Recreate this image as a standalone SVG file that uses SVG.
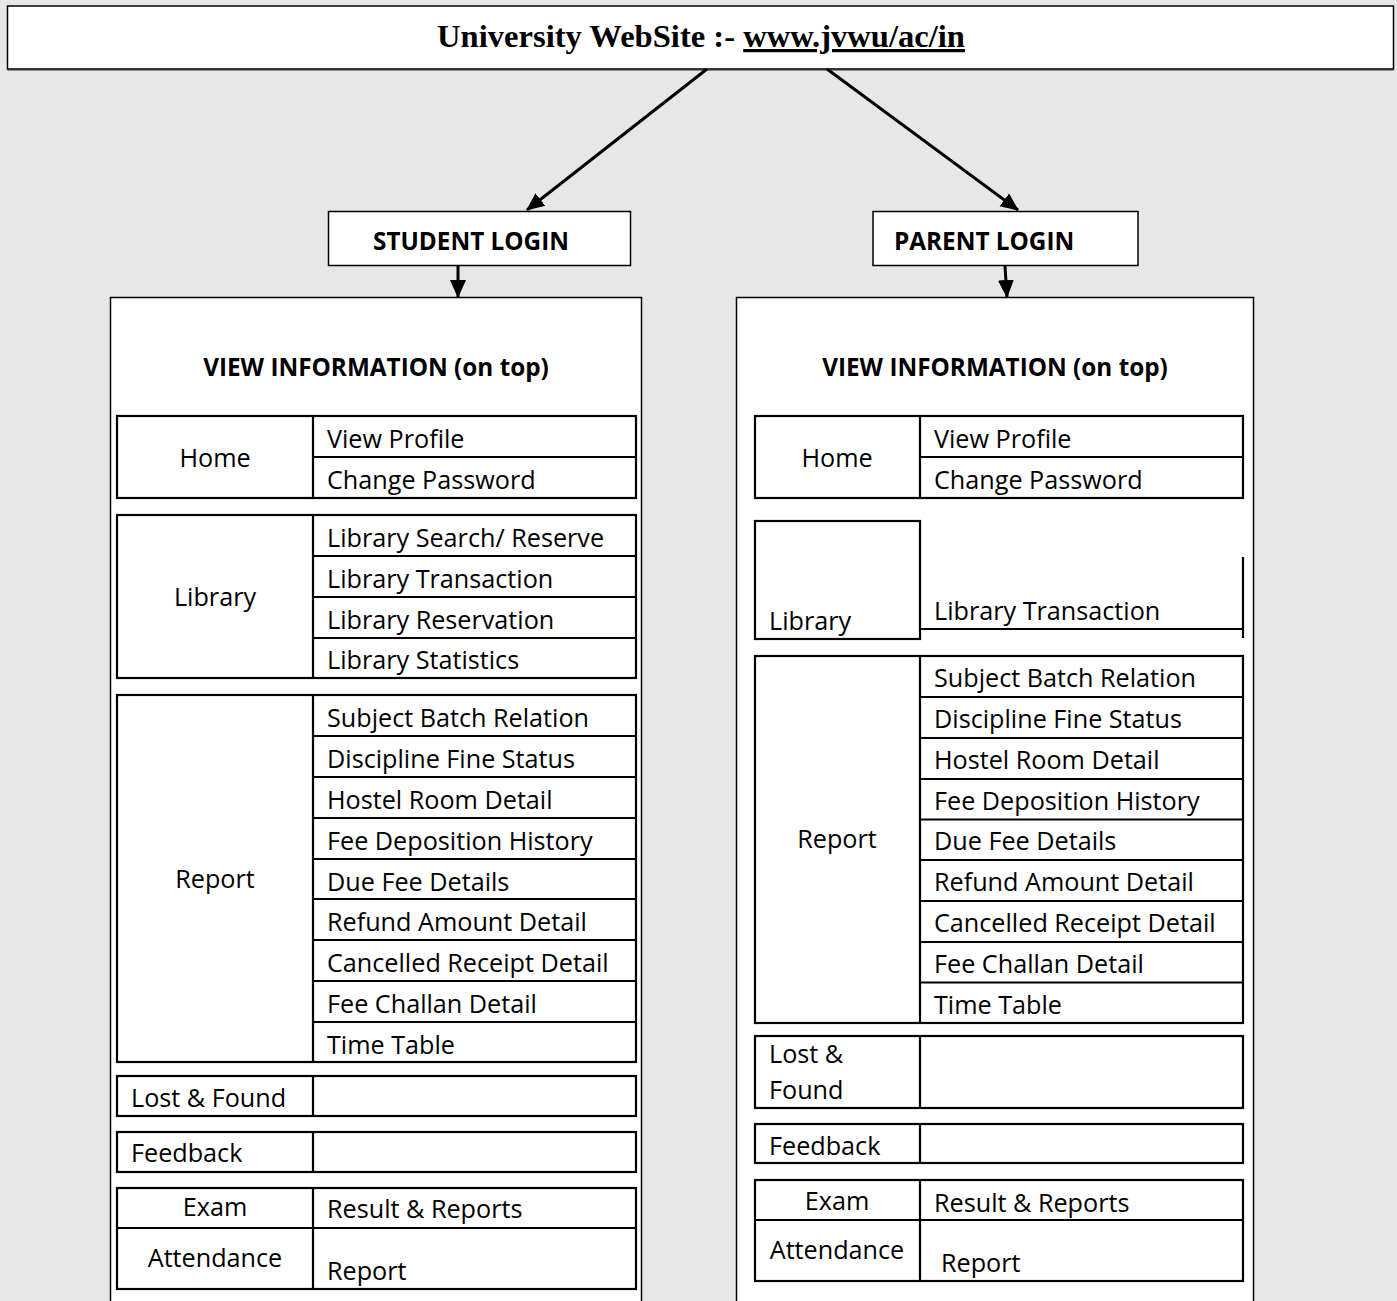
<svg xmlns="http://www.w3.org/2000/svg" width="1397" height="1301" viewBox="0 0 1397 1301">
<style>
.box{fill:#fff;stroke:#000;stroke-width:1.5}
.cell{fill:#fff;stroke:#000;stroke-width:2.2}
.ln{stroke:#000;stroke-width:2.2;fill:none}
.t{font-family:"Open Sans","Liberation Sans",sans-serif;font-size:25.2px;fill:#000}
.c{text-anchor:middle}
.b{font-family:"Open Sans","Liberation Sans",sans-serif;font-size:24.3px;font-weight:bold;fill:#000}
.conn{stroke:#000;stroke-width:3;fill:none}
</style>
<defs>
<marker id="ah" markerUnits="userSpaceOnUse" markerWidth="18" markerHeight="18" viewBox="0 0 18 18" refX="17" refY="9" orient="auto">
<path d="M0,1 L18,9 L0,17 Z" fill="#000"/>
</marker>
</defs>
<rect x="0" y="0" width="1397" height="1301" fill="#e6e7e6"/>

<g id="header">
<rect class="box" x="7.5" y="6" width="1386" height="63"/>
<line x1="7.5" y1="69.5" x2="1393.5" y2="69.5" stroke="#333" stroke-width="2"/>
<text x="701" y="47" text-anchor="middle" font-family="Liberation Serif,serif" font-size="32.6" font-weight="bold">University WebSite :- <tspan text-decoration="underline">www.jvwu/ac/in</tspan></text>
</g>

<g id="connectors">
<line class="conn" x1="707" y1="69" x2="527" y2="210" marker-end="url(#ah)"/>
<line class="conn" x1="827" y1="69" x2="1018" y2="210" marker-end="url(#ah)"/>
<line class="conn" x1="458" y1="266" x2="458" y2="297" marker-end="url(#ah)"/>
<line class="conn" x1="1005" y1="266" x2="1007" y2="297" marker-end="url(#ah)"/>
</g>

<g id="student-login">
<rect class="box" x="328.5" y="211.5" width="302" height="54"/>
<text class="b" x="373" y="250">STUDENT LOGIN</text>
</g>
<g id="parent-login">
<rect class="box" x="873" y="211.5" width="265" height="54"/>
<text class="b" x="894" y="250">PARENT LOGIN</text>
</g>

<g id="student-panel">
<rect class="box" x="110.5" y="297.5" width="531" height="1020"/>
<text class="b c" x="376" y="376" font-size="25">VIEW INFORMATION  (on top)</text>
<!-- Home -->
<rect class="cell" x="117" y="416" width="519" height="82"/>
<line class="ln" x1="313" y1="416" x2="313" y2="498"/>
<line class="ln" x1="313" y1="457" x2="636" y2="457"/>
<text class="t c" x="215" y="467">Home</text>
<text class="t" x="327" y="448">View Profile</text>
<text class="t" x="327" y="489">Change Password</text>
<!-- Library -->
<rect class="cell" x="117" y="515" width="519" height="163"/>
<line class="ln" x1="313" y1="515" x2="313" y2="678"/>
<line class="ln" x1="313" y1="556" x2="636" y2="556"/>
<line class="ln" x1="313" y1="597" x2="636" y2="597"/>
<line class="ln" x1="313" y1="638" x2="636" y2="638"/>
<text class="t c" x="215" y="606">Library</text>
<text class="t" x="327" y="547">Library Search/ Reserve</text>
<text class="t" x="327" y="588">Library Transaction</text>
<text class="t" x="327" y="629">Library Reservation</text>
<text class="t" x="327" y="669">Library Statistics</text>
<!-- Report -->
<rect class="cell" x="117" y="695" width="519" height="367"/>
<line class="ln" x1="313" y1="695" x2="313" y2="1062"/>
<path class="ln" d="M313,736H636M313,777H636M313,818H636M313,859H636M313,899H636M313,940H636M313,981H636M313,1022H636"/>
<text class="t c" x="215" y="888">Report</text>
<text class="t" x="327" y="727">Subject Batch Relation</text>
<text class="t" x="327" y="768">Discipline Fine Status</text>
<text class="t" x="327" y="809">Hostel Room Detail</text>
<text class="t" x="327" y="850">Fee Deposition History</text>
<text class="t" x="327" y="891">Due Fee Details</text>
<text class="t" x="327" y="931">Refund Amount Detail</text>
<text class="t" x="327" y="972">Cancelled Receipt Detail</text>
<text class="t" x="327" y="1013">Fee Challan Detail</text>
<text class="t" x="327" y="1054">Time Table</text>
<!-- Lost & Found -->
<rect class="cell" x="117" y="1076" width="519" height="40"/>
<line class="ln" x1="313" y1="1076" x2="313" y2="1116"/>
<text class="t" x="131" y="1107">Lost &amp; Found</text>
<!-- Feedback -->
<rect class="cell" x="117" y="1132" width="519" height="40"/>
<line class="ln" x1="313" y1="1132" x2="313" y2="1172"/>
<text class="t" x="131" y="1162">Feedback</text>
<!-- Exam / Attendance -->
<rect class="cell" x="117" y="1188" width="519" height="101"/>
<line class="ln" x1="313" y1="1188" x2="313" y2="1289"/>
<line class="ln" x1="117" y1="1228" x2="636" y2="1228"/>
<text class="t c" x="215" y="1216">Exam</text>
<text class="t" x="327" y="1218">Result &amp; Reports</text>
<text class="t c" x="215" y="1267">Attendance</text>
<text class="t" x="327" y="1280">Report</text>
</g>

<g id="parent-panel">
<rect class="box" x="736.5" y="297.5" width="517" height="1020"/>
<text class="b c" x="995" y="376" font-size="25">VIEW INFORMATION  (on top)</text>
<!-- Home -->
<rect class="cell" x="755" y="416" width="488" height="82"/>
<line class="ln" x1="920" y1="416" x2="920" y2="498"/>
<line class="ln" x1="920" y1="457" x2="1243" y2="457"/>
<text class="t c" x="837" y="467">Home</text>
<text class="t" x="934" y="448">View Profile</text>
<text class="t" x="934" y="489">Change Password</text>
<!-- Library -->
<rect class="cell" x="755" y="521" width="165" height="118"/>
<line class="ln" x1="920" y1="629" x2="1243" y2="629"/>
<line class="ln" x1="1243" y1="557" x2="1243" y2="638"/>
<text class="t" x="769" y="630">Library</text>
<text class="t" x="934" y="620">Library Transaction</text>
<!-- Report -->
<rect class="cell" x="755" y="656" width="488" height="367"/>
<line class="ln" x1="920" y1="656" x2="920" y2="1023"/>
<path class="ln" d="M920,697H1243M920,738H1243M920,779H1243M920,819.5H1243M920,860H1243M920,901H1243M920,942H1243M920,982.5H1243"/>
<text class="t c" x="837" y="848">Report</text>
<text class="t" x="934" y="687">Subject Batch Relation</text>
<text class="t" x="934" y="728">Discipline Fine Status</text>
<text class="t" x="934" y="769">Hostel Room Detail</text>
<text class="t" x="934" y="810">Fee Deposition History</text>
<text class="t" x="934" y="850">Due Fee Details</text>
<text class="t" x="934" y="891">Refund Amount Detail</text>
<text class="t" x="934" y="932">Cancelled Receipt Detail</text>
<text class="t" x="934" y="973">Fee Challan Detail</text>
<text class="t" x="934" y="1014">Time Table</text>
<!-- Lost & Found -->
<rect class="cell" x="755" y="1036" width="488" height="72"/>
<line class="ln" x1="920" y1="1036" x2="920" y2="1108"/>
<text class="t" x="769" y="1063">Lost &amp;</text>
<text class="t" x="769" y="1099">Found</text>
<!-- Feedback -->
<rect class="cell" x="755" y="1124" width="488" height="39"/>
<line class="ln" x1="920" y1="1124" x2="920" y2="1163"/>
<text class="t" x="769" y="1155">Feedback</text>
<!-- Exam / Attendance -->
<rect class="cell" x="755" y="1180" width="488" height="101"/>
<line class="ln" x1="920" y1="1180" x2="920" y2="1281"/>
<line class="ln" x1="755" y1="1220" x2="1243" y2="1220"/>
<text class="t c" x="837" y="1210">Exam</text>
<text class="t" x="934" y="1212">Result &amp; Reports</text>
<text class="t c" x="837" y="1259">Attendance</text>
<text class="t" x="941" y="1272">Report</text>
</g>
</svg>
